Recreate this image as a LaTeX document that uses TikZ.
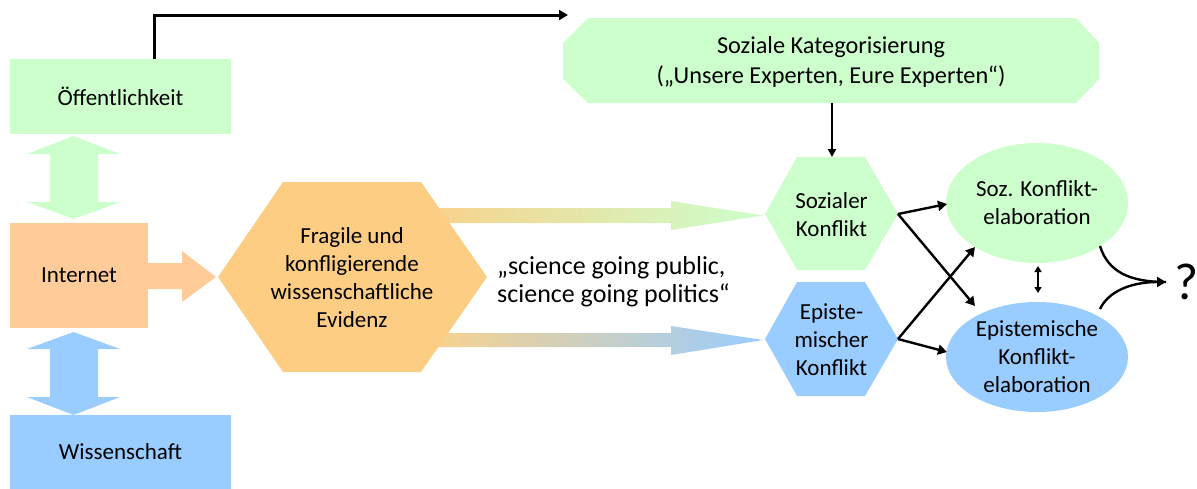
\documentclass[tikz,border=0pt]{standalone}
\usepackage{fontspec}
\setmainfont{Carlito}
\usetikzlibrary{arrows.meta,shapes.geometric}
\definecolor{lgreen}{HTML}{CCFFCC}
\definecolor{lorange}{HTML}{FFCC99}
\definecolor{lblue}{HTML}{99CCFF}
\definecolor{hexor}{HTML}{FDCD84}
\definecolor{gradstart}{HTML}{F8D28C}
\begin{document}
\begin{tikzpicture}[x=1pt,y=-1pt,
  txt/.style={font=\fontsize{23}{28}\selectfont, align=center, text=black, inner sep=0pt},
  box/.style={txt, inner sep=0pt, minimum width=221pt},
  conn/.style={line width=2.4pt, -{Triangle[length=9pt,width=10pt]}},
  thinconn/.style={line width=2pt, -{Triangle[length=8pt,width=8pt]}}]
\useasboundingbox (0,0) rectangle (1197,488);

% left boxes
\node[box, fill=lgreen, minimum height=75pt] (oef) at (120.5,96.5) {Öffentlichkeit};
\node[box, fill=lorange, minimum width=138pt, minimum height=105pt] (inet) at (79,275.5) {Internet};
\node[box, fill=lblue, minimum height=74pt] (wiss) at (120.5,452) {Wissenschaft};

% block double arrows
\fill[lgreen] (73.5,136) -- (120,154) -- (98,154) -- (98,202) -- (120,202) -- (73.5,219)
  -- (27,202) -- (50,202) -- (50,154) -- (27,154) -- cycle;
\fill[lblue] (73.5,332) -- (120,349) -- (98,349) -- (98,397) -- (120,397) -- (73.5,415)
  -- (27,397) -- (50,397) -- (50,349) -- (27,349) -- cycle;
% orange block arrow
\fill[lorange] (148,263) -- (182,263) -- (182,251) -- (216,277) -- (182,302) -- (182,289) -- (148,289) -- cycle;

% gradient arrows
\shade[left color=gradstart, right color=lgreen] (430,208) -- (671,208) -- (671,201) -- (763,215.5)
  -- (671,230) -- (671,223) -- (430,223) -- cycle;
\shade[left color=gradstart, right color=lblue] (430,333) -- (671,333) -- (671,326) -- (763,340)
  -- (671,355) -- (671,347) -- (430,347) -- cycle;

% evidence hexagon
\fill[hexor] (218,277) -- (283,182) -- (421,182) -- (487,277) -- (421,372) -- (283,372) -- cycle;
\node[txt] (evid) at (352,278) {Fragile und\\konfligierende\\wissenschaftliche\\Evidenz};

\node[txt, anchor=west, align=left, font=\fontsize{26}{28}\selectfont] (sgp) at (497,282) {„science going public,\\science going politics“};

% social categorisation
\fill[lgreen] (563,43) -- (588,18) -- (1076,18) -- (1099,43) -- (1099,79) -- (1076,103) -- (588,103) -- (563,79) -- cycle;
\node[txt, font=\fontsize{24.3}{30}\selectfont] (soz) at (831,62) {Soziale Kategorisierung\\(„Unsere Experten, Eure Experten“)};

% conflict hexagons
\fill[lgreen] (765,214) -- (797,157) -- (865,157) -- (898,214) -- (865,270) -- (797,270) -- cycle;
\node[txt] (sk) at (831.5,215) {Sozialer\\Konflikt};
\fill[lblue] (765,339) -- (797,282) -- (865,282) -- (898,339) -- (865,396) -- (797,396) -- cycle;
\node[txt] (ek) at (831.5,340) {Episte-\\mischer\\Konflikt};

% ellipses
\node[txt, ellipse, fill=lgreen, minimum width=182pt, minimum height=120pt] (ske) at (1037,203) {Soz. Konflikt-\\elaboration};
\node[txt, ellipse, fill=lblue, minimum width=182pt, minimum height=110pt] (eke) at (1037,357) {Epistemische\\Konflikt-\\elaboration};

\node[font=\fontsize{52}{52}\selectfont, inner sep=0pt] (q) at (1187,282) {?};

% connector coordinates
\coordinate (oefT) at (154,59);
\coordinate (topC) at (154,15);
\coordinate (topE) at (568,15);
\coordinate (sozB) at (832,103);
\coordinate (skT) at (832,157);
\coordinate (skR) at (898,214);
\coordinate (ekR) at (898,339);
\coordinate (skeL) at (947,204);
\coordinate (skeLB) at (975,247);
\coordinate (ekeLT) at (975,306);
\coordinate (ekeL) at (947,352);
\coordinate (skeB) at (1038,266);
\coordinate (ekeT) at (1038,293);
\coordinate (skeR) at (1100,246);
\coordinate (ekeR) at (1100,309);
\coordinate (qL) at (1166,282);

\draw[line width=3pt, -{Triangle[length=9pt,width=10pt]}] (oefT) -- (topC) -- (topE);
\draw[thinconn] (sozB) -- (skT);
\draw[conn] (skR) -- (skeL);
\draw[conn] (skR) -- (ekeLT);
\draw[conn] (ekR) -- (skeLB);
\draw[conn] (ekR) -- (ekeL);
\draw[line width=2pt, {Triangle[length=6pt,width=7pt]}-{Triangle[length=6pt,width=7pt]}] (skeB) -- (ekeT);
\draw[line width=2.4pt] (skeR) .. controls (1108,272) and (1130,282) .. (qL);
\draw[conn] (ekeR) .. controls (1108,292) and (1130,282) .. (qL);
\end{tikzpicture}
\end{document}
